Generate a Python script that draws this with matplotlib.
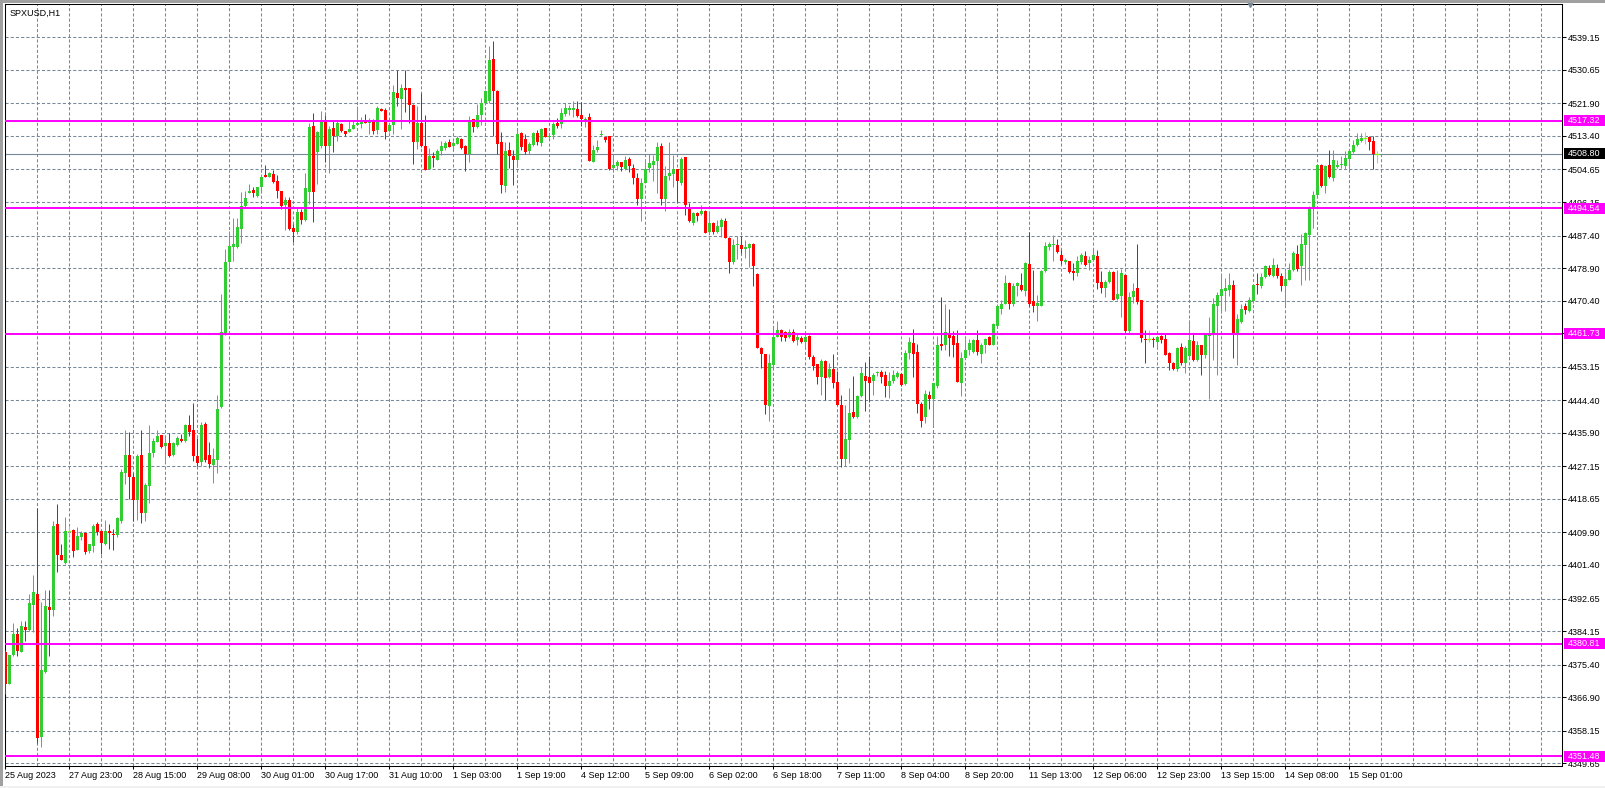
import matplotlib.pyplot as plt
import numpy as np
from matplotlib.patches import Rectangle

# SPXUSD H1 candles (bar 0 = 25 Aug 2023)
opens = [
    4378.7, 4370.4, 4378.0, 4383.5, 4378.7, 4385.1, 4384.5, 4391.0, 4393.8, 4356.6,
    4373.4, 4390.5, 4389.6, 4412.0, 4403.9, 4402.0, 4410.3, 4410.6, 4405.3, 4408.6,
    4409.7, 4405.1, 4406.3, 4412.0, 4410.2, 4406.8, 4410.3, 4409.5, 4409.2, 4412.9,
    4425.4, 4430.1, 4424.4, 4418.3, 4430.0, 4415.0, 4421.9, 4430.6, 4433.6, 4435.3,
    4432.4, 4433.2, 4430.0, 4432.6, 4434.3, 4433.8, 4437.9, 4436.6, 4429.8, 4428.3,
    4438.1, 4430.2, 4427.5, 4428.8, 4442.7, 4461.8, 4480.5, 4484.4, 4484.4, 4489.0,
    4495.1, 4498.4, 4499.2, 4497.8, 4500.2, 4503.1, 4502.7, 4503.4, 4501.6, 4499.0,
    4495.3, 4496.7, 4489.3, 4488.4, 4493.6, 4491.5, 4498.7, 4516.0, 4509.3, 4510.9,
    4517.5, 4510.9, 4515.4, 4513.5, 4516.6, 4514.8, 4514.5, 4515.1, 4516.2, 4516.5,
    4517.5, 4516.9, 4517.5, 4515.0, 4520.5, 4520.2, 4514.8, 4516.3, 4524.6, 4523.0,
    4526.0, 4525.8, 4521.5, 4511.8, 4516.9, 4510.9, 4504.8, 4508.1, 4507.2, 4509.4,
    4510.3, 4511.7, 4510.9, 4511.4, 4512.6, 4510.8, 4508.7, 4517.8, 4515.8, 4518.9,
    4521.9, 4522.4, 4533.4, 4525.1, 4511.9, 4500.3, 4509.7, 4508.2, 4507.1, 4514.1,
    4512.6, 4509.5, 4511.0, 4514.1, 4511.6, 4515.5, 4513.0, 4513.6, 4516.8, 4516.4,
    4519.1, 4520.3, 4520.3, 4520.4, 4518.9, 4517.1, 4518.3, 4506.7, 4509.6, 4513.6,
    4513.1, 4513.5, 4505.1, 4505.5, 4506.5, 4504.7, 4507.5, 4504.9, 4502.4, 4496.9,
    4501.2, 4505.0, 4505.8, 4506.9, 4510.8, 4497.0, 4502.9, 4503.5, 4504.7, 4501.2,
    4507.8, 4494.3, 4490.7, 4493.4, 4492.9, 4493.9, 4488.4, 4490.8, 4488.4, 4489.5,
    4491.2, 4486.8, 4480.4, 4484.8, 4484.9, 4484.0, 4484.2, 4485.2, 4477.3, 4458.0,
    4456.6, 4442.9, 4453.6, 4461.0, 4462.7, 4462.1, 4460.9, 4462.3, 4460.1, 4460.7,
    4459.7, 4461.3, 4455.8, 4453.9, 4450.4, 4454.7, 4450.4, 4452.5, 4449.1, 4443.2,
    4429.0, 4433.9, 4441.4, 4440.0, 4445.5, 4450.7, 4450.6, 4449.3, 4451.6, 4451.8,
    4451.0, 4448.1, 4449.3, 4450.4, 4451.3, 4448.6, 4456.8, 4459.3, 4457.0, 4443.3,
    4440.0, 4445.9, 4444.6, 4448.1, 4459.2, 4458.7, 4462.0, 4461.3, 4459.4, 4448.8,
    4455.5, 4457.6, 4456.9, 4460.2, 4456.6, 4458.7, 4460.8, 4458.8, 4463.9, 4468.3,
    4469.6, 4474.9, 4469.4, 4474.2, 4474.6, 4472.9, 4480.1, 4470.2, 4468.9, 4468.9,
    4478.1, 4484.4, 4484.8, 4485.0, 4482.2, 4480.4, 4480.7, 4478.2, 4477.6, 4480.4,
    4482.0, 4480.2, 4481.0, 4482.0, 4475.2, 4473.7, 4475.2, 4477.9, 4470.8, 4471.5,
    4477.0, 4462.4, 4471.4, 4473.6, 4470.7, 4460.4, 4460.3, 4460.4, 4459.5, 4461.1,
    4460.4, 4456.8, 4454.0, 4452.6, 4458.3, 4454.2, 4455.9, 4459.8, 4454.8, 4458.7,
    4456.1, 4461.1, 4461.5, 4468.9, 4471.6, 4472.9, 4473.3, 4474.4, 4461.8, 4464.8,
    4469.1, 4467.6, 4470.2, 4474.8, 4474.3, 4476.6, 4479.0, 4476.8, 4479.0, 4476.8,
    4474.2, 4475.9, 4478.5, 4482.7, 4479.4, 4484.8, 4487.5, 4494.6, 4498.1, 4505.7,
    4500.4, 4505.7, 4502.3, 4505.3, 4505.7, 4505.5, 4507.4, 4509.2, 4511.1, 4512.2,
    4512.8, 4513.0, 4512.2, 4508.8,
]
highs = [
    4379.3, 4378.0, 4386.2, 4385.0, 4386.8, 4386.8, 4393.8, 4398.7, 4416.3, 4391.8,
    4395.0, 4395.0, 4413.0, 4417.2, 4406.8, 4413.8, 4411.6, 4410.8, 4411.2, 4410.2,
    4409.9, 4406.8, 4412.0, 4412.6, 4410.2, 4413.2, 4412.1, 4410.8, 4413.8, 4426.4,
    4436.6, 4436.2, 4425.4, 4430.3, 4436.6, 4422.9, 4437.9, 4434.5, 4436.6, 4435.3,
    4434.7, 4435.9, 4433.5, 4435.1, 4435.7, 4438.1, 4440.5, 4443.6, 4434.5, 4438.6,
    4438.7, 4433.5, 4432.0, 4445.7, 4472.1, 4483.9, 4488.7, 4492.1, 4492.1, 4498.7,
    4499.0, 4500.9, 4500.0, 4500.2, 4503.4, 4505.8, 4504.1, 4504.6, 4503.1, 4499.0,
    4497.5, 4497.5, 4490.3, 4494.5, 4494.2, 4503.8, 4516.9, 4519.4, 4514.8, 4520.0,
    4518.8, 4516.0, 4517.2, 4517.2, 4516.9, 4514.8, 4517.2, 4517.5, 4521.2, 4518.4,
    4519.0, 4518.2, 4517.9, 4521.2, 4520.6, 4520.6, 4516.9, 4526.6, 4530.5, 4526.9,
    4530.5, 4525.8, 4521.8, 4521.2, 4524.5, 4518.8, 4510.3, 4509.1, 4509.9, 4512.1,
    4512.1, 4512.5, 4512.1, 4513.5, 4512.8, 4511.0, 4518.6, 4517.8, 4521.7, 4523.2,
    4525.4, 4537.0, 4538.2, 4525.4, 4514.5, 4511.9, 4511.9, 4509.7, 4514.9, 4514.5,
    4513.9, 4511.9, 4514.5, 4514.9, 4515.4, 4515.5, 4514.1, 4517.1, 4518.0, 4520.6,
    4522.1, 4521.5, 4522.5, 4522.6, 4522.3, 4518.3, 4519.3, 4511.0, 4512.3, 4514.9,
    4513.1, 4513.5, 4508.4, 4507.1, 4506.5, 4508.2, 4508.0, 4506.1, 4503.6, 4502.3,
    4507.5, 4508.8, 4508.4, 4511.9, 4511.5, 4505.5, 4511.9, 4508.4, 4504.7, 4508.0,
    4507.8, 4496.0, 4493.6, 4493.6, 4495.4, 4494.1, 4493.6, 4491.0, 4491.5, 4491.9,
    4492.1, 4487.1, 4486.4, 4487.4, 4487.4, 4486.2, 4485.4, 4485.5, 4477.5, 4458.4,
    4456.6, 4456.6, 4463.2, 4465.2, 4463.0, 4462.6, 4463.1, 4462.9, 4461.9, 4461.2,
    4461.9, 4461.4, 4456.2, 4453.9, 4455.1, 4454.9, 4454.2, 4456.6, 4452.0, 4445.8,
    4443.2, 4447.5, 4450.7, 4445.8, 4453.2, 4454.5, 4455.9, 4451.4, 4452.0, 4452.3,
    4452.1, 4451.8, 4452.3, 4452.0, 4451.4, 4457.5, 4461.0, 4462.9, 4459.1, 4444.0,
    4447.0, 4446.9, 4449.0, 4461.1, 4471.4, 4469.6, 4468.2, 4462.4, 4462.8, 4457.0,
    4460.4, 4460.4, 4460.4, 4462.7, 4459.4, 4460.7, 4461.1, 4464.6, 4469.5, 4470.7,
    4477.2, 4475.2, 4475.0, 4475.3, 4477.6, 4480.4, 4488.3, 4478.5, 4472.0, 4478.5,
    4485.6, 4485.6, 4487.5, 4486.5, 4483.6, 4481.6, 4480.7, 4480.2, 4482.0, 4482.9,
    4483.3, 4482.0, 4483.6, 4483.6, 4478.1, 4475.7, 4478.3, 4478.1, 4478.5, 4478.7,
    4477.2, 4472.6, 4475.0, 4485.3, 4470.7, 4462.7, 4462.8, 4460.9, 4461.3, 4461.5,
    4461.8, 4456.9, 4454.3, 4458.3, 4459.4, 4458.5, 4465.3, 4462.0, 4459.8, 4458.9,
    4462.0, 4466.2, 4471.1, 4472.6, 4477.6, 4476.3, 4477.6, 4475.9, 4467.0, 4469.6,
    4469.8, 4471.4, 4474.8, 4477.6, 4477.5, 4479.8, 4479.8, 4481.6, 4480.1, 4477.6,
    4478.1, 4480.2, 4483.3, 4485.0, 4487.9, 4488.3, 4495.2, 4499.0, 4506.2, 4506.2,
    4505.9, 4509.8, 4509.8, 4507.2, 4508.1, 4509.4, 4510.0, 4512.4, 4514.2, 4514.2,
    4514.4, 4513.5, 4513.3, 4509.4,
]
lows = [
    4367.7, 4370.4, 4377.7, 4377.7, 4378.7, 4381.6, 4384.1, 4384.0, 4355.0, 4354.0,
    4373.2, 4377.7, 4388.1, 4399.6, 4402.6, 4401.7, 4409.0, 4403.5, 4405.3, 4407.8,
    4404.4, 4404.5, 4404.7, 4409.3, 4404.4, 4406.6, 4405.6, 4405.3, 4408.7, 4412.4,
    4422.6, 4418.7, 4412.9, 4413.2, 4412.4, 4412.9, 4417.5, 4429.6, 4433.5, 4432.0,
    4428.6, 4429.6, 4429.8, 4432.4, 4433.5, 4433.6, 4435.1, 4428.6, 4427.2, 4427.2,
    4428.4, 4426.8, 4422.9, 4425.4, 4442.3, 4461.5, 4478.7, 4480.8, 4484.2, 4485.4,
    4494.5, 4498.4, 4497.5, 4497.5, 4499.0, 4502.6, 4502.6, 4501.2, 4497.3, 4494.4,
    4488.9, 4488.8, 4485.6, 4487.8, 4490.5, 4491.2, 4495.7, 4490.9, 4500.8, 4510.3,
    4506.6, 4503.6, 4509.1, 4512.1, 4514.5, 4513.5, 4514.3, 4515.1, 4516.2, 4515.5,
    4516.8, 4513.9, 4513.9, 4513.9, 4519.9, 4512.5, 4514.5, 4513.9, 4521.2, 4515.1,
    4519.6, 4516.9, 4506.0, 4509.9, 4510.5, 4504.4, 4504.8, 4505.4, 4507.0, 4508.4,
    4509.7, 4510.5, 4509.9, 4511.4, 4510.0, 4504.3, 4506.7, 4514.5, 4515.4, 4516.2,
    4521.5, 4521.9, 4513.4, 4508.7, 4498.4, 4498.8, 4504.9, 4500.6, 4505.4, 4509.7,
    4508.8, 4508.8, 4510.8, 4511.0, 4510.8, 4513.2, 4512.8, 4512.6, 4515.4, 4515.4,
    4518.6, 4518.9, 4518.4, 4518.4, 4516.0, 4515.8, 4506.8, 4506.7, 4509.3, 4513.4,
    4511.9, 4504.5, 4504.2, 4504.5, 4504.3, 4504.5, 4504.1, 4500.8, 4495.4, 4491.3,
    4501.0, 4504.1, 4501.7, 4498.6, 4495.4, 4493.9, 4501.9, 4500.2, 4496.2, 4500.6,
    4492.8, 4491.0, 4490.1, 4491.3, 4492.8, 4488.0, 4488.1, 4487.8, 4488.1, 4486.9,
    4486.7, 4477.7, 4480.1, 4481.2, 4482.8, 4481.5, 4479.3, 4474.2, 4458.0, 4452.7,
    4440.8, 4439.0, 4453.2, 4460.8, 4459.9, 4459.9, 4460.6, 4459.7, 4458.8, 4459.3,
    4458.4, 4455.3, 4452.3, 4448.6, 4445.8, 4444.5, 4450.1, 4447.5, 4443.2, 4427.1,
    4427.3, 4427.9, 4439.7, 4439.7, 4445.3, 4441.7, 4444.0, 4445.8, 4450.7, 4448.8,
    4445.2, 4444.9, 4448.8, 4450.1, 4448.1, 4448.4, 4455.3, 4450.6, 4441.0, 4437.5,
    4438.5, 4442.0, 4438.0, 4447.6, 4457.5, 4457.6, 4455.9, 4455.7, 4449.1, 4445.6,
    4455.2, 4456.1, 4456.8, 4456.1, 4454.0, 4456.8, 4458.7, 4458.7, 4463.7, 4467.0,
    4469.6, 4468.1, 4469.1, 4471.6, 4472.9, 4471.7, 4468.9, 4467.4, 4465.0, 4468.9,
    4477.8, 4483.7, 4480.7, 4482.9, 4480.1, 4480.1, 4477.6, 4475.7, 4476.9, 4480.1,
    4479.4, 4478.3, 4480.7, 4473.5, 4472.4, 4471.4, 4475.0, 4470.5, 4470.7, 4466.2,
    4462.2, 4461.6, 4469.8, 4469.4, 4459.5, 4454.0, 4459.5, 4458.3, 4458.1, 4459.4,
    4456.1, 4452.4, 4452.2, 4452.0, 4453.7, 4451.5, 4455.5, 4454.6, 4454.6, 4451.1,
    4455.5, 4444.6, 4455.0, 4451.1, 4467.2, 4467.6, 4471.7, 4455.5, 4453.7, 4464.6,
    4466.8, 4467.4, 4469.8, 4472.2, 4473.7, 4476.3, 4476.8, 4476.6, 4476.3, 4472.9,
    4468.9, 4475.7, 4478.1, 4478.1, 4474.5, 4475.9, 4475.7, 4489.3, 4497.8, 4500.1,
    4498.5, 4502.4, 4501.6, 4505.0, 4505.0, 4504.8, 4504.8, 4509.0, 4510.7, 4511.9,
    4511.4, 4509.7, 4504.8, 4506.3,
]
closes = [
    4370.4, 4378.0, 4383.5, 4378.9, 4385.6, 4384.5, 4391.6, 4394.4, 4356.2, 4374.1,
    4390.8, 4389.6, 4411.7, 4404.0, 4402.7, 4410.2, 4410.3, 4405.1, 4409.0, 4409.7,
    4404.7, 4406.8, 4411.6, 4409.9, 4407.2, 4410.4, 4409.7, 4409.1, 4413.6, 4425.8,
    4430.0, 4424.4, 4418.4, 4429.8, 4415.0, 4422.3, 4430.6, 4433.7, 4435.1, 4432.3,
    4433.2, 4429.8, 4433.2, 4434.5, 4433.7, 4437.9, 4436.2, 4429.8, 4428.0, 4438.0,
    4428.9, 4427.7, 4429.0, 4442.0, 4462.2, 4480.5, 4484.7, 4485.2, 4489.6, 4495.1,
    4497.3, 4498.9, 4498.4, 4500.2, 4502.7, 4502.6, 4503.6, 4501.4, 4499.0, 4495.1,
    4496.8, 4489.0, 4488.2, 4493.6, 4491.5, 4499.7, 4515.7, 4498.7, 4514.3, 4517.5,
    4510.9, 4515.1, 4513.3, 4516.9, 4514.8, 4513.9, 4515.2, 4516.3, 4516.7, 4517.2,
    4516.8, 4517.4, 4514.8, 4520.6, 4519.9, 4514.5, 4516.3, 4524.8, 4523.4, 4526.0,
    4525.4, 4521.5, 4511.8, 4516.9, 4510.9, 4504.4, 4508.2, 4507.7, 4509.4, 4510.9,
    4511.5, 4510.6, 4511.6, 4512.8, 4510.2, 4508.7, 4517.5, 4515.8, 4518.9, 4521.9,
    4525.0, 4533.2, 4525.2, 4511.3, 4500.6, 4509.5, 4508.2, 4507.1, 4513.9, 4510.4,
    4509.1, 4511.2, 4514.1, 4511.9, 4515.2, 4513.2, 4513.4, 4516.6, 4516.1, 4519.3,
    4520.6, 4520.7, 4520.7, 4518.6, 4517.7, 4517.8, 4506.9, 4509.7, 4510.5, 4513.9,
    4512.3, 4504.7, 4505.7, 4506.7, 4505.2, 4507.1, 4505.5, 4502.5, 4496.9, 4501.0,
    4504.8, 4506.3, 4506.9, 4510.6, 4497.0, 4502.9, 4503.6, 4504.8, 4501.7, 4507.5,
    4495.4, 4491.3, 4493.4, 4492.6, 4493.9, 4488.1, 4490.8, 4488.4, 4489.9, 4491.5,
    4486.8, 4480.6, 4484.9, 4485.3, 4484.0, 4484.5, 4485.1, 4479.4, 4458.0, 4456.5,
    4443.2, 4454.0, 4461.0, 4462.7, 4460.8, 4460.6, 4462.3, 4459.9, 4461.0, 4459.7,
    4461.0, 4455.8, 4453.3, 4450.6, 4454.7, 4450.1, 4452.5, 4448.8, 4443.2, 4429.0,
    4434.2, 4441.2, 4440.0, 4445.5, 4451.6, 4449.3, 4449.0, 4451.0, 4451.8, 4450.4,
    4448.1, 4449.5, 4451.0, 4451.6, 4448.4, 4456.8, 4459.5, 4456.6, 4443.3, 4439.0,
    4446.1, 4444.6, 4448.8, 4458.9, 4458.5, 4462.2, 4460.7, 4458.9, 4449.1, 4455.5,
    4457.6, 4459.4, 4460.2, 4456.9, 4458.7, 4460.4, 4458.9, 4464.4, 4468.9, 4469.6,
    4474.9, 4469.4, 4474.2, 4475.0, 4473.3, 4480.3, 4469.6, 4469.1, 4469.8, 4478.1,
    4484.6, 4485.1, 4485.0, 4483.0, 4480.7, 4481.0, 4477.8, 4477.5, 4480.7, 4482.2,
    4479.6, 4481.0, 4482.2, 4474.9, 4473.7, 4475.2, 4477.8, 4470.7, 4472.2, 4477.5,
    4462.4, 4471.4, 4472.9, 4470.0, 4460.7, 4460.1, 4460.3, 4460.1, 4460.8, 4460.2,
    4456.3, 4454.2, 4452.6, 4458.1, 4454.2, 4458.1, 4460.1, 4455.0, 4458.7, 4456.1,
    4461.5, 4462.0, 4469.4, 4472.0, 4473.5, 4473.7, 4474.6, 4462.0, 4465.5, 4468.1,
    4467.9, 4470.5, 4474.6, 4474.4, 4476.6, 4479.5, 4477.0, 4479.7, 4476.8, 4474.3,
    4476.1, 4478.5, 4482.9, 4478.7, 4485.3, 4488.1, 4494.6, 4498.1, 4505.9, 4500.4,
    4505.5, 4502.7, 4507.2, 4505.9, 4505.9, 4507.7, 4509.4, 4511.1, 4512.6, 4512.9,
    4512.8, 4511.7, 4508.7, 4508.8,
]

time_labels = ['25 Aug 2023', '27 Aug 23:00', '28 Aug 15:00', '29 Aug 08:00',
               '30 Aug 01:00', '30 Aug 17:00', '31 Aug 10:00', '1 Sep 03:00',
               '1 Sep 19:00', '4 Sep 12:00', '5 Sep 09:00', '6 Sep 02:00',
               '6 Sep 18:00', '7 Sep 11:00', '8 Sep 04:00', '8 Sep 20:00',
               '11 Sep 13:00', '12 Sep 06:00', '12 Sep 23:00', '13 Sep 15:00',
               '14 Sep 08:00', '15 Sep 01:00']
price_ticks = [4539.15, 4530.65, 4521.90, 4513.40, 4504.65, 4496.15, 4487.40,
               4478.90, 4470.40, 4461.90, 4453.15, 4444.40, 4435.90, 4427.15,
               4418.65, 4409.90, 4401.40, 4392.65, 4384.15, 4375.40, 4366.90,
               4358.15, 4349.65]
levels = [4517.32, 4494.54, 4461.73, 4380.81, 4351.48]
last_price = 4508.80

assert len(opens) == len(highs) == len(lows) == len(closes)

plt.rcParams['font.family'] = ['Liberation Sans', 'DejaVu Sans']
plt.rcParams['font.size'] = 6.5

GREEN = '#32CD32'
RED = '#FF0000'
DOJI = '#7FFF00'
GRID = '#778899'
MAGENTA = '#FF00FF'

fig = plt.figure(figsize=(16.05, 7.88), dpi=100)
ax = fig.add_axes([5 / 1605, 22 / 788, 1557 / 1605, 762 / 788])

o = np.array(opens)
h = np.array(highs)
l = np.array(lows)
c = np.array(closes)
x = np.arange(len(o))
up = c > o
down = c < o
flat = c == o
body = np.maximum(np.abs(c - o), 0.3)

# wicks
ax.vlines(x[up], l[up], h[up], color=GREEN, lw=0.72, zorder=3)
ax.vlines(x[down], l[down], h[down], color=RED, lw=0.72, zorder=3)
ax.vlines(x[flat], l[flat], h[flat], color=DOJI, lw=0.72, zorder=3)
# bodies
ax.bar(x[up], body[up], bottom=o[up], width=0.78, color=GREEN, lw=0, zorder=4)
ax.bar(x[down], body[down], bottom=c[down], width=0.78, color=RED, lw=0, zorder=4)
ax.hlines(c[flat], x[flat] - 0.45, x[flat] + 0.45, color=DOJI, lw=0.9, zorder=4)

ax.set_xlim(-0.1, 389.2)
ax.set_ylim(4348.93, 4547.84)

# grid
ax.set_axisbelow(True)
ax.set_yticks(price_ticks)
ax.set_yticklabels(['%.2f' % p for p in price_ticks])
ax.set_xticks(np.arange(0, 16 * len(time_labels), 16))
ax.set_xticklabels(time_labels, ha='left')
ax.set_xticks(np.arange(8, 389, 8), minor=True)
ax.grid(axis='y', which='major', color=GRID, lw=0.75, linestyle=(0, (3, 2)))
ax.grid(axis='x', which='both', color=GRID, lw=0.75, linestyle=(0, (3, 2)))

ax.yaxis.tick_right()
ax.tick_params(axis='y', length=2.8, pad=1.4, width=0.75, colors='black')
ax.tick_params(axis='x', which='major', length=2, pad=1.5, width=0.75)
ax.tick_params(axis='x', which='minor', length=0)
for s in ax.spines.values():
    s.set_color('black')
    s.set_linewidth(0.75)

# horizontal levels with price boxes
yax = ax.get_yaxis_transform()
ax.axhline(last_price, color=GRID, lw=0.8, zorder=2.5)
ax.add_patch(Rectangle((1.001, last_price - 1.45), 0.0267, 2.9, transform=yax,
                       facecolor='black', edgecolor='none', clip_on=False, zorder=6))
ax.text(1.0039, last_price, '%.2f' % last_price, transform=yax, color='white',
        ha='left', va='center', clip_on=False, zorder=7)
for lvl in levels:
    ax.axhline(lvl, color=MAGENTA, lw=1.4, zorder=5)
    ax.add_patch(Rectangle((1.001, lvl - 1.45), 0.0267, 2.9, transform=yax,
                           facecolor=MAGENTA, edgecolor='none', clip_on=False, zorder=6))
    ax.text(1.0039, lvl, '%.2f' % lvl, transform=yax, color='white',
            ha='left', va='center', clip_on=False, zorder=7)

ax.annotate('SPXUSD,H1', xy=(0, 1), xycoords='axes fraction', xytext=(4.5, -9.5),
            textcoords='offset pixels', ha='left', va='center', fontsize=6.5)
# chart shift marker
ax.plot([0.7996], [1.0], marker='v', ms=4.5, color=GRID, transform=ax.transAxes,
        clip_on=False, zorder=8)

# window frame
fig.patches.append(Rectangle((0, 0), 2.5 / 1605, 1, transform=fig.transFigure,
                             facecolor='#a0a0a0', edgecolor='none'))
fig.patches.append(Rectangle((0, 785.5 / 788), 1, 2.5 / 788, transform=fig.transFigure,
                             facecolor='#a0a0a0', edgecolor='none'))
fig.patches.append(Rectangle((0, 0), 1, 2 / 788, transform=fig.transFigure,
                             facecolor='#f0f0f0', edgecolor='none'))

fig.savefig('out.png', dpi=100)
